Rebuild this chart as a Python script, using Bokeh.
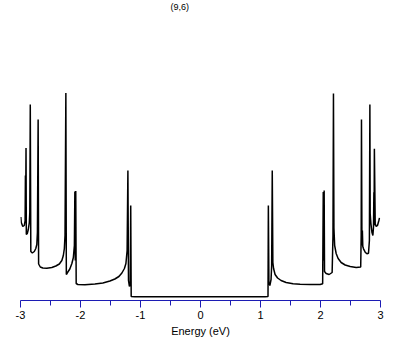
from bokeh.plotting import figure
from bokeh.models import Range1d, FixedTicker, Label
from bokeh.embed import file_html
from bokeh.resources import INLINE

title_text = "(9,6)"
x_label = "Energy (eV)"
tick_values = [-3, -2, -1, 0, 1, 2, 3]
tick_labels = ["-3", "-2", "-1", "0", "1", "2", "3"]
minor_tick_values = [-2.5, -1.5, -0.5, 0.5, 1.5, 2.5]

# density of states (arbitrary units)
energy = [
    -2.995, -2.987, -2.962, -2.937, -2.923, -2.918, -2.915, -2.908, -2.903, -2.887,
    -2.870, -2.853, -2.845, -2.837, -2.828, -2.803, -2.770, -2.745, -2.728, -2.718,
    -2.706, -2.698, -2.670, -2.628, -2.561, -2.478, -2.411, -2.353, -2.311, -2.286,
    -2.269, -2.258, -2.244, -2.236, -2.211, -2.178, -2.144, -2.119, -2.102, -2.094,
    -2.087, -2.079, -2.072, -2.044, -1.927, -1.760, -1.627, -1.510, -1.427, -1.360,
    -1.310, -1.268, -1.243, -1.223, -1.210, -1.200, -1.185, -1.171, -1.163, -1.155,
    -1.093, -0.025, 1.076,
    1.125, 1.131, 1.140, 1.156, 1.176, 1.186, 1.196, 1.206, 1.218, 1.243,
    1.285, 1.343, 1.427, 1.543, 1.660, 1.827, 1.994, 2.036, 2.046, 2.054,
    2.061, 2.067, 2.094, 2.144, 2.194, 2.208, 2.216, 2.224, 2.236, 2.261,
    2.294, 2.344, 2.411, 2.495, 2.595, 2.670, 2.678, 2.683, 2.691, 2.698,
    2.705, 2.717, 2.745, 2.773, 2.800, 2.815, 2.823, 2.828, 2.840, 2.857,
    2.873, 2.883, 2.890, 2.893, 2.898, 2.912, 2.928, 2.950, 2.973, 2.983,
]
dos = [
    0.835, 0.78, 0.74, 0.75, 0.80, 1.25, 0.80, 1.525, 0.66, 0.67,
    0.71, 0.78, 0.88, 1.96, 0.49, 0.475, 0.49, 0.52, 0.56, 0.68,
    1.81, 0.365, 0.335, 0.325, 0.322, 0.33, 0.345, 0.365, 0.40, 0.45,
    0.52, 0.65, 2.075, 0.26, 0.285, 0.315, 0.37, 0.43, 0.55, 1.09,
    0.40, 1.095, 0.17, 0.16, 0.157, 0.165, 0.175, 0.195, 0.215, 0.24,
    0.275, 0.32, 0.37, 0.50, 1.30, 0.20, 0.14, 0.16, 0.95, 0.04,
    0.038, 0.037, 0.038,
    0.04, 0.95, 0.18, 0.15, 0.21, 0.35, 1.30, 0.38, 0.32, 0.26,
    0.225, 0.20, 0.18, 0.167, 0.162, 0.16, 0.16, 0.167, 1.085, 0.40,
    1.10, 0.29, 0.27, 0.26, 0.28, 0.65, 2.07, 0.72, 0.55, 0.47,
    0.42, 0.38, 0.355, 0.34, 0.33, 0.335, 0.65, 1.81, 0.55, 0.70,
    0.54, 0.517, 0.483, 0.467, 0.473, 0.60, 1.96, 0.87, 0.77, 0.683,
    0.65, 0.733, 1.083, 0.75, 1.517, 0.767, 0.74, 0.75, 0.80, 0.827,
]

p = figure(
    frame_width=360, frame_height=300,
    min_border_left=20, min_border_right=21, min_border_top=0, min_border_bottom=37,
    x_range=Range1d(-3, 3), y_range=Range1d(0, 3.0),
    output_backend="svg", toolbar_location=None, y_axis_location=None,
    background_fill_color="white", border_fill_color="white",
)
p.outline_line_color = None
p.grid.visible = False

title_label = Label(
    x=150, y=294, x_units="screen", y_units="screen", text=title_text,
    text_font="Liberation Sans", text_font_size="9px", text_color="black",
    text_align="left", text_baseline="middle",
)
p.add_layout(title_label)

p.line(energy, dos, line_color="black", line_width=1.5)

ax = p.xaxis[0]
ax.ticker = FixedTicker(ticks=tick_values, minor_ticks=minor_tick_values)
ax.major_label_overrides = {v: s for v, s in zip(tick_values, tick_labels)}
blue = "#1c1cb4"
ax.axis_line_color = blue
ax.axis_line_width = 1
ax.major_tick_line_color = blue
ax.minor_tick_line_color = blue
ax.major_tick_in = 0
ax.major_tick_out = 7
ax.minor_tick_in = 0
ax.minor_tick_out = 5
ax.major_label_standoff = 3
ax.major_label_text_font = "Liberation Sans"
ax.major_label_text_font_size = "11px"
ax.major_label_text_color = "black"
ax.axis_label = x_label
ax.axis_label_text_font = "Liberation Sans"
ax.axis_label_text_font_size = "11px"
ax.axis_label_text_font_style = "normal"
ax.axis_label_text_color = "black"
ax.axis_label_standoff = 3

open("out.html", "w").write(file_html(p, INLINE))
